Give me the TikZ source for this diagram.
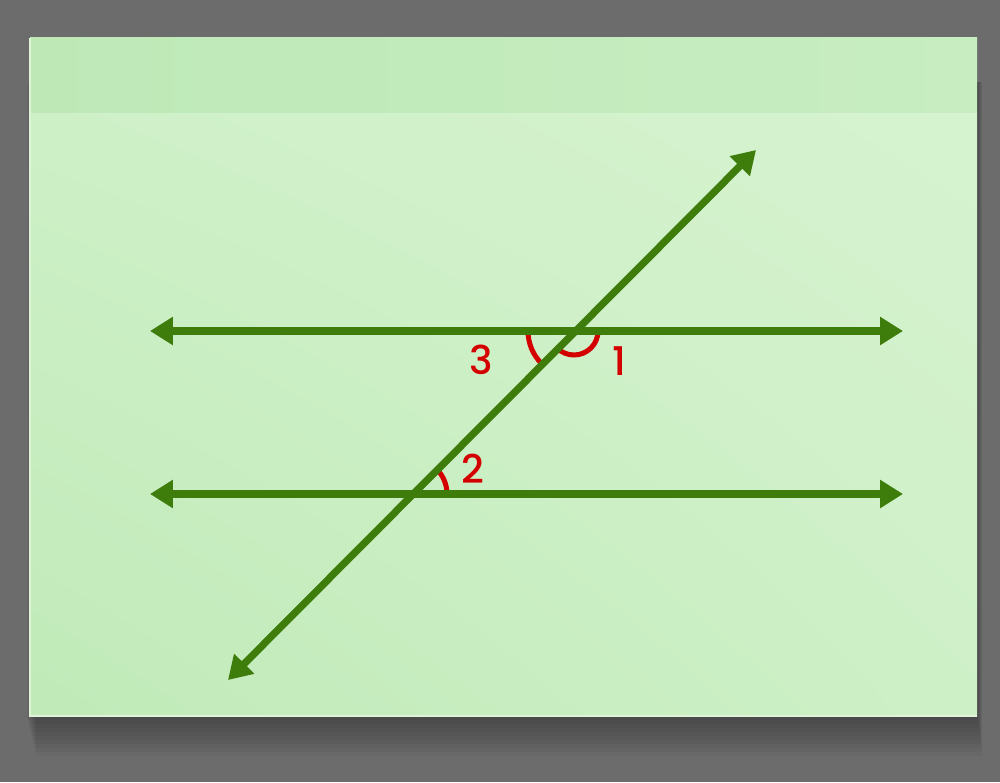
\documentclass[tikz,border=0pt]{standalone}
\usepackage{fontspec}
\usepackage{tikz}
\usetikzlibrary{arrows.meta,shadings}
\newfontfamily\numfont{Poppins Medium}
\definecolor{backdrop}{RGB}{108,108,108}
\definecolor{cardedge}{RGB}{222,243,216}
\definecolor{bandgreen}{RGB}{190,233,183}
\definecolor{bandlight}{RGB}{199,237,193}
\definecolor{cardgreen}{RGB}{192,234,184}
\definecolor{cardmid}{RGB}{206,240,199}
\definecolor{cardlight}{RGB}{214,243,208}
\definecolor{linegreen}{RGB}{62,124,12}
\definecolor{anglered}{RGB}{212,0,0}
\tikzstyle{parline} = [line width=0.145cm, draw=linegreen, {Triangle[length=0.46cm,width=0.54cm]}-{Triangle[length=0.46cm,width=0.54cm]}]
\tikzstyle{anglemark} = [line width=0.1cm, draw=anglered]
\tikzstyle{anglelabel} = [text=anglered, font=\numfont\fontsize{22.5}{24}\selectfont, inner sep=0pt]
\begin{document}
\begin{tikzpicture}[x=0.02cm,y=0.02cm]
\useasboundingbox (0,0) rectangle (1000,782);
\fill[backdrop] (0,0) rectangle (1000,782);
% soft shadow under the card
\foreach \s in {4,8,...,40}
  \fill[black,opacity=0.03] (26+\s/4,66-\s) rectangle (977+\s/8,700);
% the card
\shade[lower left=cardgreen, upper left=cardmid, upper right=cardlight, lower right=cardmid] (30,66) rectangle (977,669);
\shade[left color=bandgreen, right color=bandlight] (30,669) rectangle (977,744);
\draw[cardedge, line width=0.03cm] (30,744) -- (30,66) -- (977,66);
% end points and crossings
\coordinate (topleft) at (150,451);
\coordinate (topright) at (903,451);
\coordinate (botleft) at (150,288);
\coordinate (botright) at (903,288);
\coordinate (translow) at (228,102);
\coordinate (transhigh) at (756,632);
\coordinate (p) at (574,451);
\coordinate (q) at (412,288);
% angle marks
\draw[anglemark] ([shift={(0:24)}]p) arc[start angle=0, end angle=-135, radius=24];
\draw[anglemark] ([shift={(180:46)}]p) arc[start angle=180, end angle=225, radius=46];
\draw[anglemark] ([shift={(0:35)}]q) arc[start angle=0, end angle=45, radius=35];
% lines
\draw[parline] (topleft) -- (topright);
\draw[parline] (botleft) -- (botright);
\draw[parline] (translow) -- (transhigh);
% labels
\node (one) [anglelabel] at (619,421) {1};
\node (two) [anglelabel] at (473,313) {2};
\node (three) [anglelabel] at (481,422) {3};
\end{tikzpicture}
\end{document}
